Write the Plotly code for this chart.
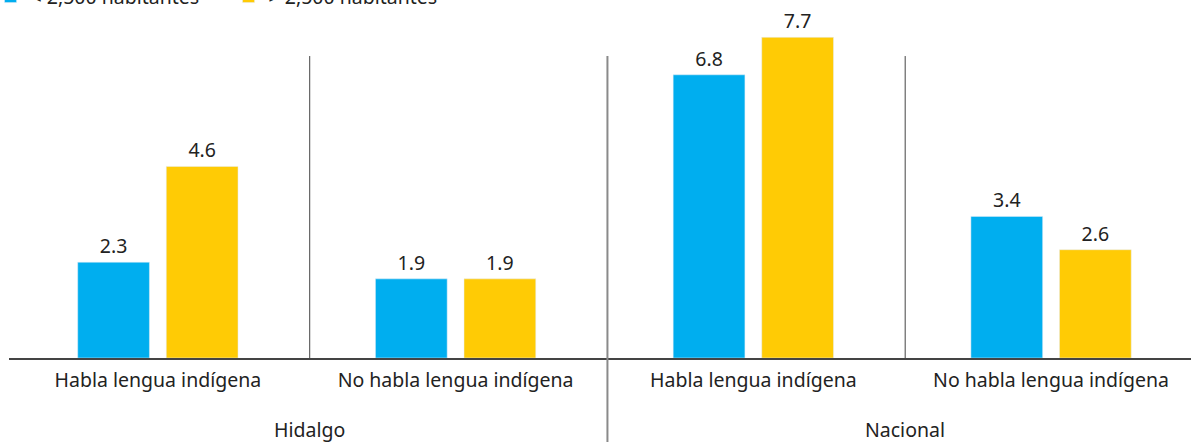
import plotly.graph_objects as go

categorias = ["Habla lengua indígena", "No habla lengua indígena",
              "Habla lengua indígena", "No habla lengua indígena"]
grupos = ["Hidalgo", "Nacional"]
menos_2500 = [2.3, 1.9, 6.8, 3.4]
mas_2500 = [4.6, 1.9, 7.7, 2.6]

AZUL = "#00AEEF"
AMARILLO = "#FFCB05"
TEXTO = "#222222"
FUENTE = "Noto Sans"
TAM = 19.5

x_idx = list(range(len(categorias)))

fig = go.Figure()
fig.add_trace(go.Bar(
    x=x_idx, y=menos_2500, name="< 2,500 habitantes",
    marker_color=AZUL,
    text=[f"{v:.1f}" for v in menos_2500], textposition="outside",
    textfont=dict(size=TAM, color=TEXTO, family=FUENTE),
    cliponaxis=False,
))
fig.add_trace(go.Bar(
    x=x_idx, y=mas_2500, name="> 2,500 habitantes",
    marker_color=AMARILLO,
    text=[f"{v:.1f}" for v in mas_2500], textposition="outside",
    textfont=dict(size=TAM, color=TEXTO, family=FUENTE),
    cliponaxis=False,
))

# lineas divisorias entre categorias
for i in range(len(categorias) - 1):
    medio = i == 1
    fig.add_shape(
        type="line", xref="x", yref="paper",
        x0=i + 0.51, x1=i + 0.51,
        y0=-0.24 if medio else 0, y1=0.853,
        line=dict(color="#8a8a8a" if medio else "#444444", width=2 if medio else 1),
    )

# etiquetas de grupo
for j, g in enumerate(grupos):
    fig.add_annotation(
        x=2 * j + 0.51, y=-0.203, xref="x", yref="paper",
        text=g, showarrow=False, yanchor="middle",
        font=dict(size=TAM, color=TEXTO, family=FUENTE),
    )

fig.update_layout(
    width=1191, height=442,
    barmode="group", bargap=0.405, bargroupgap=0.19,
    plot_bgcolor="white", paper_bgcolor="white",
    margin=dict(l=9, r=0, t=4, b=84, autoexpand=False),
    font=dict(family=FUENTE, size=TAM, color=TEXTO),
    legend=dict(
        orientation="h", x=-0.0156, y=1.02, xanchor="left", yanchor="middle",
        font=dict(size=TAM, color=TEXTO, family=FUENTE),
        entrywidth=193, bgcolor="rgba(0,0,0,0)",
    ),
    xaxis=dict(
        range=[-0.5, 3.47], tickmode="array", tickvals=x_idx, ticktext=categorias,
        showline=True, linecolor="#444444", linewidth=2, showgrid=False,
        ticks="", zeroline=False, ticklabelstandoff=4,
        tickfont=dict(size=TAM, color=TEXTO, family=FUENTE),
    ),
    yaxis=dict(range=[0, 8.5], visible=False),
)

fig.write_html("out.html", config={"displayModeBar": False},
               post_script="document.body.style.margin='0';")
